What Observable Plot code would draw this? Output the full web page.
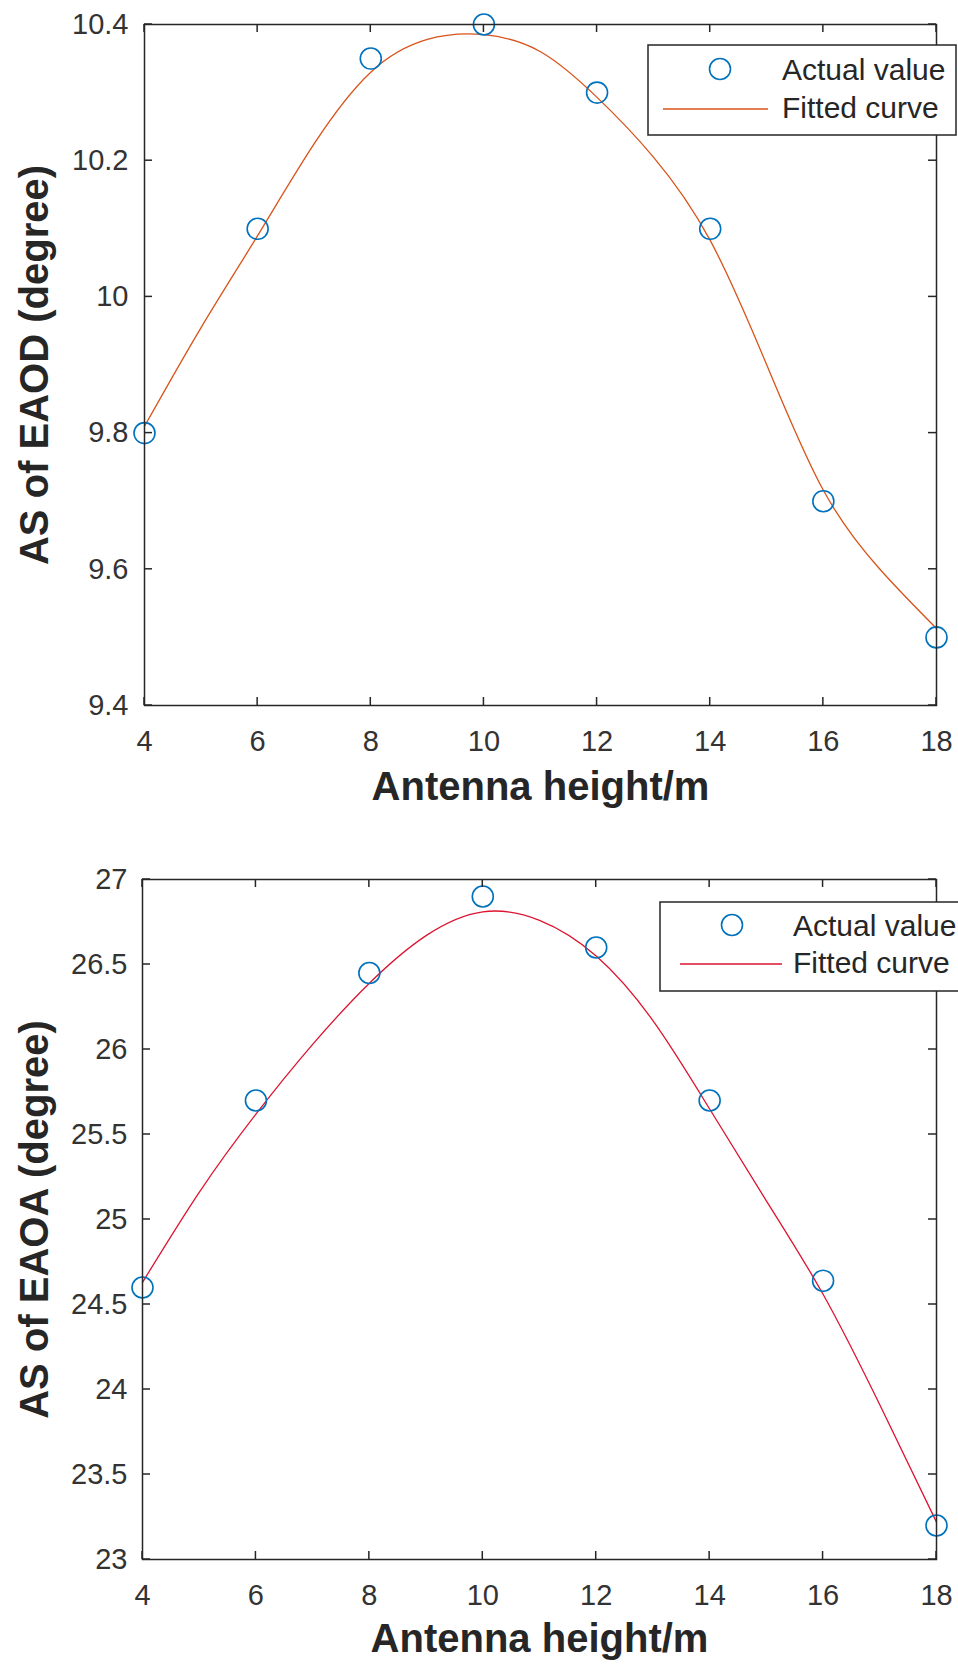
<!DOCTYPE html>
<html>
<head>
<meta charset="utf-8">
<script src="https://cdn.jsdelivr.net/npm/d3@7"></script>
<script src="https://cdn.jsdelivr.net/npm/@observablehq/plot@0.6"></script>
<style>
  html, body { margin: 0; padding: 0; background: #fff; width: 958px; height: 1664px; overflow: hidden; }
  #charts svg { display: block; overflow: hidden; }
</style>
</head>
<body>
<div id="charts"></div>
<script>
// Measured angular spread versus antenna height
const heights = [4, 6, 8, 10, 12, 14, 16, 18];
const eaodActual = [9.8, 10.1, 10.35, 10.4, 10.3, 10.1, 9.7, 9.5];
const eaoaActual = [24.6, 25.7, 26.45, 26.9, 26.6, 25.7, 24.64, 23.2];

// Fitted curves, sampled every metre
const fitHeights = [4, 5, 6, 7, 8, 9, 10, 11, 12, 13, 14, 15, 16, 17, 18];
const eaodFitted = [9.81, 9.955, 10.09, 10.225, 10.33, 10.378, 10.385, 10.36, 10.293, 10.205, 10.083, 9.9, 9.716, 9.6, 9.513];
const eaoaFitted = [24.63, 25.16, 25.62, 26.03, 26.39, 26.67, 26.81, 26.76, 26.55, 26.17, 25.65, 25.11, 24.56, 23.91, 23.22];

// Axis ticks and labels
const xTicks = [4, 6, 8, 10, 12, 14, 16, 18];
const eaodTicks = [9.4, 9.6, 9.8, 10, 10.2, 10.4];
const eaoaTicks = [23, 23.5, 24, 24.5, 25, 25.5, 26, 26.5, 27];
const xLabel = "Antenna height/m";
const legendLabels = ["Actual value", "Fitted curve"];

const FONT = "'Liberation Sans', Arial, Helvetica, sans-serif";
const INK = "#262626";
const TICK_INK = "#333333";
const MARKER = "#0072BD";
const plain = d => `${d}`;

function panel(cfg) {
  const points = heights.map((h, i) => ({h, v: cfg.actual[i]}));
  const curve = fitHeights.map((h, i) => ({h, v: cfg.fitted[i]}));

  const svg = Plot.plot({
    width: 958,
    height: cfg.height,
    marginLeft: cfg.marginLeft,
    marginRight: 22,
    marginTop: cfg.marginTop,
    marginBottom: cfg.marginBottom,
    style: {fontFamily: FONT, fontSize: "29px", color: INK, background: "#fff"},
    x: {domain: [4, 18], ticks: xTicks},
    y: {domain: cfg.yDomain, ticks: cfg.yTicks},
    marks: [
      Plot.axisX({ticks: xTicks, tickFormat: plain, tickSize: 0, tickPadding: 25, fontSize: 29, fill: TICK_INK, label: null}),
      Plot.axisY({ticks: cfg.yTicks, tickFormat: plain, tickSize: 0, tickPadding: cfg.yPad, fontSize: 29, fill: TICK_INK, label: null}),
      Plot.line(curve, {x: "h", y: "v", curve: "natural", stroke: cfg.fitColor, strokeWidth: 1.3}),
      Plot.dot(points, {x: "h", y: "v", r: 10.5, stroke: MARKER, strokeWidth: 1.6, fill: "none"}),
      Plot.frame({stroke: INK, strokeWidth: 1.5}),
      Plot.text([xLabel], {
        frameAnchor: "bottom", lineAnchor: "middle", textAnchor: "middle",
        dy: cfg.xLabelDy, text: d => d, fontSize: 40, fontWeight: "bold", fill: INK
      }),
      Plot.text([cfg.yLabel], {
        frameAnchor: "left", lineAnchor: "middle", textAnchor: "middle", rotate: -90,
        dx: cfg.yLabelDx, text: d => d, fontSize: 40, fontWeight: "bold", fill: INK
      })
    ]
  });

  // Inward tick marks on all four sides of the box
  const xs = svg.scale("x"), ys = svg.scale("y");
  const [xL, xR] = xs.range;
  const [yB, yT] = ys.range;
  const tickLen = 8;
  const g = d3.select(svg).append("g")
    .attr("stroke", INK).attr("stroke-width", 1.5);
  for (const t of xTicks) {
    const px = xs.apply(t);
    g.append("line").attr("x1", px).attr("x2", px).attr("y1", yB).attr("y2", yB - tickLen);
    g.append("line").attr("x1", px).attr("x2", px).attr("y1", yT).attr("y2", yT + tickLen);
  }
  for (const t of cfg.yTicks) {
    const py = ys.apply(t);
    g.append("line").attr("x1", xL).attr("x2", xL + tickLen).attr("y1", py).attr("y2", py);
    g.append("line").attr("x1", xR).attr("x2", xR - tickLen).attr("y1", py).attr("y2", py);
  }

  // Legend box
  const L = cfg.legend;
  const lg = d3.select(svg).append("g")
    .attr("font-family", FONT).attr("font-size", 30).attr("fill", INK)
    .attr("text-anchor", "start");
  lg.append("rect")
    .attr("x", L.x).attr("y", L.y).attr("width", L.w).attr("height", L.h)
    .attr("fill", "#fff").attr("stroke", INK).attr("stroke-width", 1.5);
  lg.append("circle")
    .attr("cx", L.markX).attr("cy", L.row1 - 11).attr("r", 10.5)
    .attr("fill", "none").attr("stroke", MARKER).attr("stroke-width", 1.6);
  lg.append("line")
    .attr("x1", L.lineX1).attr("x2", L.lineX2).attr("y1", L.row2 - 9).attr("y2", L.row2 - 9)
    .attr("stroke", cfg.fitColor).attr("stroke-width", 1.5);
  lg.append("text").attr("x", L.textX).attr("y", L.row1).text(legendLabels[0]);
  lg.append("text").attr("x", L.textX).attr("y", L.row2).text(legendLabels[1]);

  return svg;
}

const root = document.getElementById("charts");

root.appendChild(panel({
  height: 832, marginLeft: 144, marginTop: 24, marginBottom: 127,
  yDomain: [9.4, 10.4], yTicks: eaodTicks, yPad: 16,
  actual: eaodActual, fitted: eaodFitted, fitColor: "#D95319",
  yLabel: "AS of EAOD (degree)", xLabelDy: 82, yLabelDx: -109,
  legend: {x: 648, y: 45, w: 308, h: 90, markX: 720, lineX1: 663, lineX2: 768, textX: 782, row1: 80, row2: 118}
}));

root.appendChild(panel({
  height: 832, marginLeft: 142, marginTop: 47, marginBottom: 105,
  yDomain: [23, 27], yTicks: eaoaTicks, yPad: 15,
  actual: eaoaActual, fitted: eaoaFitted, fitColor: "#DC1430",
  yLabel: "AS of EAOA (degree)", xLabelDy: 80, yLabelDx: -107,
  legend: {x: 660, y: 70, w: 320, h: 89, markX: 732, lineX1: 680, lineX2: 782, textX: 793, row1: 104, row2: 141}
}));
</script>
</body>
</html>
